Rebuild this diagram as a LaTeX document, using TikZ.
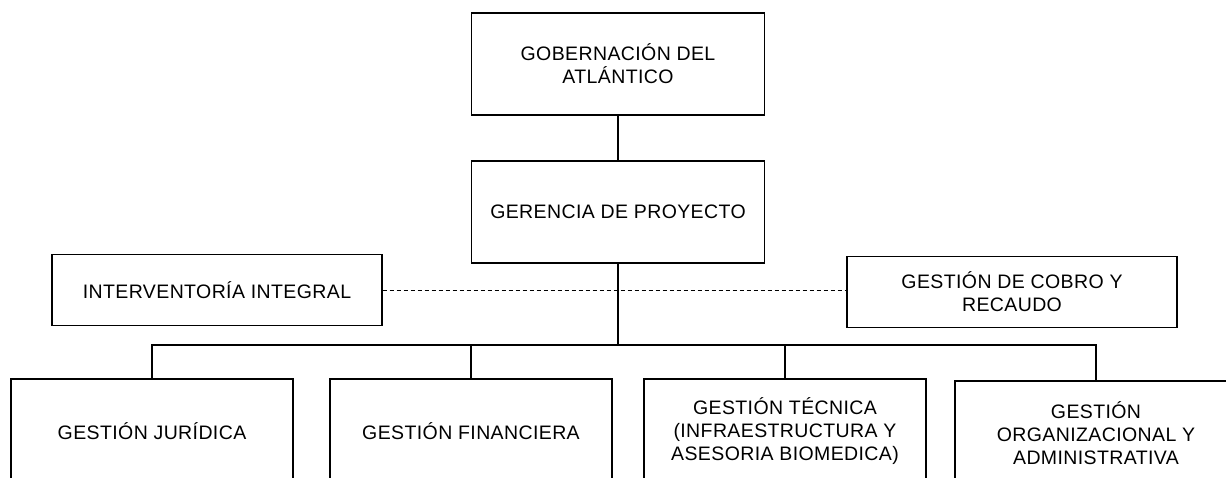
\documentclass[tikz,border=0pt]{standalone}
\usepackage{fontspec}
\setmainfont{Liberation Sans}[LetterSpace=2]
\usetikzlibrary{positioning}

\begin{document}
\begin{tikzpicture}[
				x=1pt, y=-1pt,
				line width=1.1pt,
				font=\fontsize{19.5}{23}\selectfont,
				main/.style = {draw, rectangle, align=center, inner sep=0pt, minimum width=293pt, minimum height=102pt},
				side/.style = {draw, rectangle, align=center, inner sep=0pt, minimum width=330pt, minimum height=71pt},
				unit/.style = {draw, rectangle, align=center, inner sep=0pt, minimum width=282pt, minimum height=104pt},
				link/.style = {dash pattern=on 4pt off 3pt, line width=1pt}
			]
			\useasboundingbox (0,0) rectangle (1226,477);
			\clip (0,0) rectangle (1226,477);
			\node[main] (gob) at (618,64) {GOBERNACIÓN DEL\\ATLÁNTICO};
			\node[main] (ger) at (618,212) {GERENCIA DE PROYECTO};
			\node[side] (intv) at (217,290) {INTERVENTORÍA INTEGRAL};
			\node[side] (cobro) at (1012,292) {GESTIÓN DE COBRO Y\\RECAUDO};
			\node[unit] (jur) at (152,431) {GESTIÓN JURÍDICA};
			\node[unit] (fin) at (471,431) {GESTIÓN FINANCIERA};
			\node[unit] (tec) at (785,431) {GESTIÓN TÉCNICA\\(INFRAESTRUCTURA Y\\ASESORIA BIOMEDICA)};
			\node[unit] (org) at (1096,433) {GESTIÓN\\ORGANIZACIONAL Y\\ADMINISTRATIVA};
			\coordinate (bus) at (618,345);
			\draw (gob) -- (ger);
			\draw (ger) -- (bus);
			\draw[link] (intv.east) -- (intv.east -| cobro.west);
			\foreach \n in {jur,fin,tec,org}
				\draw (\n.north) |- (bus);
		\end{tikzpicture}
\end{document}
